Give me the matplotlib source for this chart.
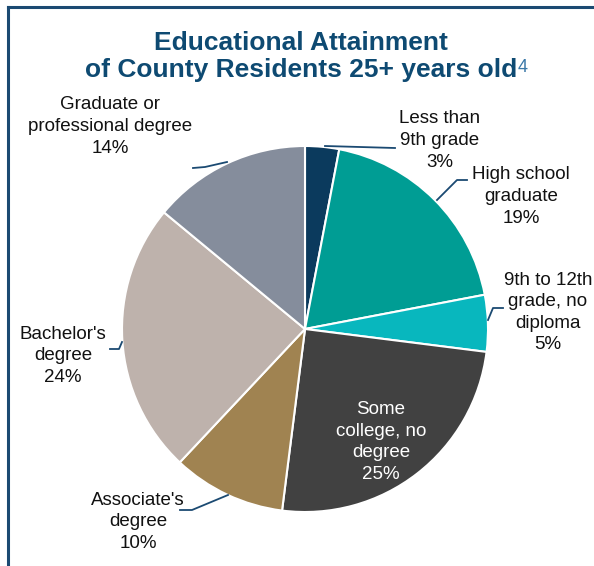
import matplotlib
matplotlib.use("Agg")
import matplotlib.pyplot as plt
from matplotlib.lines import Line2D

categories = ["Less than\n9th grade", "High school\ngraduate", "9th to 12th\ngrade, no\ndiploma",
              "Some\ncollege, no\ndegree", "Associate's\ndegree", "Bachelor's\ndegree",
              "Graduate or\nprofessional degree"]
values = [3, 19, 5, 25, 10, 24, 14]
colors = ["#0b3a5d", "#009d94", "#08b7be", "#414141", "#a08351", "#beb2ac", "#858d9c"]

W, H = 594, 566
plt.rcParams['font.family'] = ['Liberation Sans', 'DejaVu Sans']
fig = plt.figure(figsize=(W / 100, H / 100), dpi=100)
ax = fig.add_axes([0, 0, 1, 1])
ax.set_xlim(0, W)
ax.set_ylim(0, H)
ax.axis('off')

def Y(py):
    return H - py

navy = "#1b4a72"
# frame
ax.add_line(Line2D([8, W], [Y(6.5), Y(6.5)], color=navy, lw=2.2))
ax.add_line(Line2D([8, 8], [Y(6.5), 0], color=navy, lw=2.2))

cx, cy, r = 305, Y(329), 183
ax.pie(values, colors=colors, startangle=90, counterclock=False, center=(cx, cy), radius=r,
       wedgeprops=dict(edgecolor='white', linewidth=1.5))
ax.set_xlim(0, W)
ax.set_ylim(0, H)
ax.set_aspect('auto')

title_color = "#0e4a72"
ax.text(301, Y(50), "Educational Attainment", ha='center', va='baseline',
        fontsize=19, fontweight='bold', color=title_color)
t2 = ax.text(85, Y(77), "of County Residents 25+ years old", ha='left', va='baseline',
             fontsize=19, fontweight='bold', color=title_color)
fig.canvas.draw()
bb = t2.get_window_extent()
ax.text(bb.x1 + 0.5, Y(72), "4", ha='left', va='baseline', fontsize=13, color="#3a78a8")

fs = 13.5
lsp = 1.35
# label block centers in pixels
label_pos = [(440, 140.5), (521, 196.5), (548, 312.5), (381, 442), (138, 522), (63, 356), (110, 126.5)]
for i, (lab, v) in enumerate(zip(categories, values)):
    x, y = label_pos[i]
    col = 'white' if i == 3 else '#111111'
    ax.text(x, Y(y), f"{lab}\n{v}%", ha='center', va='center', fontsize=fs,
            color=col, linespacing=lsp)

leaders = [
    [(325, 146), (395, 148)],
    [(437, 200), (457, 180), (467, 180)],
    [(488, 320), (493, 308), (503, 308)],
    [(228, 495), (192, 510), (180, 510)],
    [(122, 342), (119, 349), (110, 349)],
    [(227, 162), (205, 167), (193, 168)],
]
for pts in leaders:
    xs = [p[0] for p in pts]
    ys = [Y(p[1]) for p in pts]
    ax.add_line(Line2D(xs, ys, color=navy, lw=1.3))

fig.savefig("out.png", dpi=100)
